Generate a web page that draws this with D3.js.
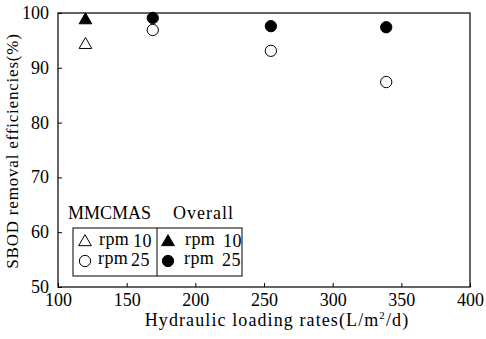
<!DOCTYPE html>
<html>
<head>
<meta charset="utf-8">
<script src="https://cdn.jsdelivr.net/npm/d3@7"></script>
<style>
  body { margin: 0; background: #fff; }
  svg text { font-family: "Liberation Serif", "DejaVu Serif", serif; fill: #000; }
</style>
</head>
<body>
<div id="chart"></div>
<script>
// hydraulic loading rates (L/m2/d)
const loadRates = [120, 169, 255, 339];
// SBOD removal efficiencies (%)
const mmcmasRpm10 = [{ x: 120, y: 94.2 }];
const mmcmasRpm25 = [{ x: 169, y: 96.9 }, { x: 255, y: 93.1 }, { x: 339, y: 87.4 }];
const overallRpm10 = [{ x: 120, y: 98.7 }];
const overallRpm25 = [{ x: 169, y: 99.1 }, { x: 255, y: 97.6 }, { x: 339, y: 97.4 }];
const xTicks = [100, 150, 200, 250, 300, 350, 400];
const yTicks = [50, 60, 70, 80, 90, 100];

const width = 486, height = 339;
const margin = { top: 13, right: 16, bottom: 52, left: 58 };

const svg = d3.select("#chart").append("svg")
    .attr("width", width)
    .attr("height", height);

const x = d3.scaleLinear().domain([100, 400]).range([margin.left, width - margin.right]);
const y = d3.scaleLinear().domain([50, 100]).range([height - margin.bottom, margin.top]);

// frame
svg.append("rect")
    .attr("x", x(100)).attr("y", y(100))
    .attr("width", x(400) - x(100)).attr("height", y(50) - y(100))
    .attr("fill", "none").attr("stroke", "#000").attr("stroke-width", 1.2);

// axes, ticks pointing inward
const xAxis = svg.append("g")
    .attr("transform", `translate(0,${y(50)})`)
    .call(d3.axisBottom(x).tickValues(xTicks).tickSizeInner(-4).tickSizeOuter(0).tickPadding(6));
const yAxis = svg.append("g")
    .attr("transform", `translate(${x(100)},0)`)
    .call(d3.axisLeft(y).tickValues(yTicks).tickSizeInner(-4).tickSizeOuter(0).tickPadding(9));
[xAxis, yAxis].forEach(g => {
    g.select(".domain").remove();
    g.selectAll("text").style("font-size", "18px");
});
yAxis.selectAll(".tick text").attr("dy", "0.3em");

// axis titles
svg.append("text")
    .attr("x", 277)
    .attr("y", 326)
    .attr("text-anchor", "middle")
    .style("font-size", "18px")
    .style("letter-spacing", "1.1px")
    .html('Hydraulic loading rates(L/m<tspan dy="-7" font-size="11">2</tspan><tspan dy="7">/d)</tspan>');

svg.append("text")
    .attr("transform", `translate(18,${(y(50) + y(100)) / 2 + 1}) rotate(-90)`)
    .attr("text-anchor", "middle")
    .style("font-size", "17px")
    .style("letter-spacing", "0.8px")
    .text("SBOD removal efficiencies(%)");

const tri = d3.symbol().type(d3.symbolTriangle).size(70);
const circ = d3.symbol().type(d3.symbolCircle).size(100);

function drawPoints(data, sym, filled) {
    svg.append("g").selectAll("path")
        .data(data)
        .join("path")
        .attr("transform", d => `translate(${x(d.x)},${y(d.y)})`)
        .attr("d", sym)
        .attr("fill", filled ? "#000" : "#fff")
        .attr("stroke", "#000")
        .attr("stroke-width", 1);
}
drawPoints(mmcmasRpm10, tri, false);
drawPoints(mmcmasRpm25, circ, false);
drawPoints(overallRpm25, circ, true);
drawPoints(overallRpm10, tri, true);

// legend
const lg = svg.append("g");
lg.append("rect")
    .attr("x", 73).attr("y", 228).attr("width", 169).attr("height", 48)
    .attr("fill", "#fff").attr("stroke", "#000").attr("stroke-width", 1);
lg.append("line")
    .attr("x1", 157).attr("x2", 157).attr("y1", 228).attr("y2", 276)
    .attr("stroke", "#000");
lg.append("text").attr("x", 68).attr("y", 219).style("font-size", "18px").text("MMCMAS");
lg.append("text").attr("x", 173).attr("y", 219).style("font-size", "18px")
    .style("letter-spacing", "1px").text("Overall");

const legendItems = [
    { lx: 85, ly: 242, sym: tri, filled: false, num: "10", tx: 99, nx: 133 },
    { lx: 85, ly: 261, sym: circ, filled: false, num: "25", tx: 98, nx: 131 },
    { lx: 168, ly: 242, sym: tri, filled: true, num: "10", tx: 185, nx: 223 },
    { lx: 168, ly: 261, sym: circ, filled: true, num: "25", tx: 184, nx: 222 }
];
legendItems.forEach(d => {
    lg.append("path")
        .attr("transform", `translate(${d.lx},${d.ly})`)
        .attr("d", d.sym)
        .attr("fill", d.filled ? "#000" : "#fff")
        .attr("stroke", "#000");
    lg.append("text").attr("x", d.tx).attr("y", d.ly + 3).style("font-size", "18px")
        .style("letter-spacing", "0.4px").text("rpm");
    lg.append("text").attr("x", d.nx).attr("y", d.ly + 5).style("font-size", "18px")
        .style("letter-spacing", "0.5px").text(d.num);
});
</script>
</body>
</html>
